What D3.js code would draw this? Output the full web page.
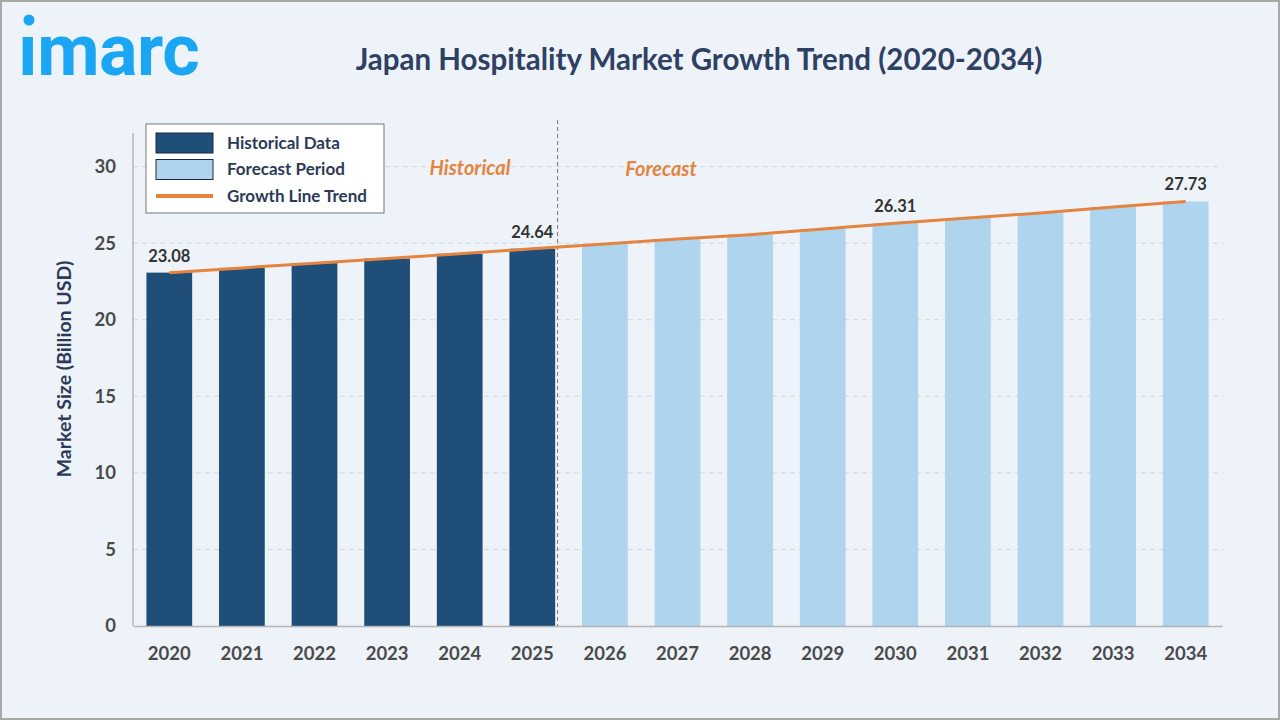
<!DOCTYPE html>
<html>
<head>
<meta charset="utf-8">
<script src="https://cdn.jsdelivr.net/npm/d3@7"></script>
<style>
  body { margin: 0; background: #fff; }
  svg { display: block; font-family: Lato, 'Open Sans', sans-serif; }
</style>
</head>
<body>
<div id="chart"></div>
<script>
// data
const years = ['2020', '2021', '2022', '2023', '2024', '2025', '2026', '2027',
  '2028', '2029', '2030', '2031', '2032', '2033', '2034']
const marketSize = [23.08, 23.39, 23.70, 24.00, 24.31, 24.64, 24.95, 25.27,
  25.56, 25.93, 26.31, 26.65, 26.97, 27.37, 27.73]
const historicalYears = ['2020', '2021', '2022', '2023', '2024', '2025']
const labelledYears = ['2020', '2025', '2030', '2034']
const yTicks = [0, 5, 10, 15, 20, 25, 30]
const legendItems = ['Historical Data', 'Forecast Period', 'Growth Line Trend']

const width = 1280
const height = 720
const margin = { top: 133, left: 133, right: 57, bottom: 94 }

const darkBlue = '#1f4e79'
const lightBlue = '#aed4ee'
const orange = '#e5843f'
const navy = '#2b3a58'

const svg = d3
  .select('#chart')
  .append('svg')
  .attr('width', width)
  .attr('height', height)

// background + frame
svg.append('rect')
  .attr('x', 1).attr('y', 1)
  .attr('width', width - 2).attr('height', height - 2)
  .attr('fill', '#eef3f9')
  .attr('stroke', '#a9a9a9')
  .attr('stroke-width', 2)

// logo
const logo = svg.append('g').attr('transform', 'translate(18,75)')
logo.append('text')
  .attr('x', 0).attr('y', 0)
  .attr('font-family', 'Roboto, sans-serif')
  .attr('font-weight', 700)
  .attr('font-size', 72)
  .attr('letter-spacing', -0.5)
  .attr('fill', '#1aa6f2')
  .text('\u0131marc')
logo.append('circle')
  .attr('cx', 11).attr('cy', -55).attr('r', 5.5)
  .attr('fill', '#1aa6f2')

// title
svg.append('text')
  .attr('x', 699).attr('y', 70)
  .attr('text-anchor', 'middle')
  .attr('font-size', 29.5)
  .attr('font-weight', 700)
  .attr('fill', '#2e4063')
  .text('Japan Hospitality Market Growth Trend (2020-2034)')

const g = svg.append('g')
  .attr('transform', 'translate(' + margin.left + ',' + margin.top + ')')

const innerW = width - margin.left - margin.right
const innerH = height - margin.top - margin.bottom

const xPositionScale = d3.scaleBand()
  .domain(years)
  .range([0, innerW - 1])
  .paddingInner(0.37)
  .paddingOuter(0.185)

const yPositionScale = d3.scaleLinear()
  .domain([0, 32.2])
  .range([innerH, 0])

// dashed grid
g.selectAll('.grid')
  .data(yTicks.filter(d => d > 0))
  .enter()
  .append('line')
  .attr('class', 'grid')
  .attr('x1', 0).attr('x2', innerW)
  .attr('y1', d => yPositionScale(d))
  .attr('y2', d => yPositionScale(d))
  .attr('stroke', '#cfd6df')
  .attr('stroke-dasharray', '5,4')

// bars
g.selectAll('.bar')
  .data(years)
  .enter()
  .append('rect')
  .attr('class', 'bar')
  .attr('x', d => xPositionScale(d))
  .attr('width', xPositionScale.bandwidth())
  .attr('y', (d, i) => yPositionScale(marketSize[i]))
  .attr('height', (d, i) => innerH - yPositionScale(marketSize[i]))
  .attr('fill', d => historicalYears.includes(d) ? darkBlue : lightBlue)

// separator between historical and forecast
const sepX = (xPositionScale('2025') + xPositionScale.bandwidth() + xPositionScale('2026')) / 2 - 11
g.append('line')
  .attr('x1', sepX).attr('x2', sepX)
  .attr('y1', -13).attr('y2', innerH)
  .attr('stroke', '#777')
  .attr('stroke-dasharray', '4,3')

// trend line
const line = d3.line()
  .x((d, i) => xPositionScale(years[i]) + xPositionScale.bandwidth() / 2)
  .y(d => yPositionScale(d))
g.append('path')
  .datum(marketSize)
  .attr('d', line)
  .attr('fill', 'none')
  .attr('stroke', orange)
  .attr('stroke-width', 3)

// value labels
g.selectAll('.value')
  .data(labelledYears)
  .enter()
  .append('text')
  .attr('class', 'value')
  .attr('x', d => xPositionScale(d) + xPositionScale.bandwidth() / 2)
  .attr('y', d => yPositionScale(marketSize[years.indexOf(d)]) - 11)
  .attr('text-anchor', 'middle')
  .attr('font-size', 16.5)
  .attr('font-weight', 700)
  .attr('fill', '#333')
  .text(d => marketSize[years.indexOf(d)].toFixed(2))

// period labels
g.append('text')
  .attr('x', 337).attr('y', 42)
  .attr('text-anchor', 'middle')
  .attr('font-size', 20)
  .attr('font-weight', 700)
  .attr('font-style', 'italic')
  .attr('fill', orange)
  .text('Historical')
g.append('text')
  .attr('x', 528).attr('y', 43)
  .attr('text-anchor', 'middle')
  .attr('font-size', 20)
  .attr('font-weight', 700)
  .attr('font-style', 'italic')
  .attr('fill', orange)
  .text('Forecast')

// axes
const yAxis = d3.axisLeft(yPositionScale).tickValues(yTicks).tickSize(0).tickPadding(17)
g.append('g')
  .attr('class', 'axis y-axis')
  .call(yAxis)

const xAxis = d3.axisBottom(xPositionScale).tickSize(0).tickPadding(21)
g.append('g')
  .attr('class', 'axis x-axis')
  .attr('transform', 'translate(0,' + innerH + ')')
  .call(xAxis)

g.selectAll('.axis path').attr('stroke', '#b5b5b5').attr('stroke-width', 1.5)
g.selectAll('.y-axis path').attr('d', 'M0,' + innerH + 'V0')
g.selectAll('.axis text')
  .attr('font-family', 'Lato, sans-serif')
  .attr('font-size', 18.5)
  .attr('font-weight', 700)
  .attr('fill', '#4a4a4a')

// y axis title
svg.append('text')
  .attr('transform', 'translate(71,369) rotate(-90)')
  .attr('text-anchor', 'middle')
  .attr('font-size', 19.5)
  .attr('font-weight', 700)
  .attr('fill', navy)
  .text('Market Size (Billion USD)')

// legend
const legend = svg.append('g').attr('transform', 'translate(146,124)')
legend.append('rect')
  .attr('width', 238).attr('height', 89)
  .attr('fill', '#fff')
  .attr('stroke', '#777')
legendItems.forEach((name, i) => {
  const y = 19 + i * 26.5
  if (i < 2) {
    legend.append('rect')
      .attr('x', 10).attr('y', y - 10)
      .attr('width', 57).attr('height', 20)
      .attr('fill', i === 0 ? darkBlue : lightBlue)
      .attr('stroke', '#1b2b40')
  } else {
    legend.append('line')
      .attr('x1', 10).attr('x2', 67)
      .attr('y1', y).attr('y2', y)
      .attr('stroke', orange)
      .attr('stroke-width', 4)
  }
  legend.append('text')
    .attr('x', 81).attr('y', y + 5.5)
    .attr('font-size', 17)
    .attr('font-weight', 700)
    .attr('fill', navy)
    .text(name)
})
</script>
</body>
</html>
